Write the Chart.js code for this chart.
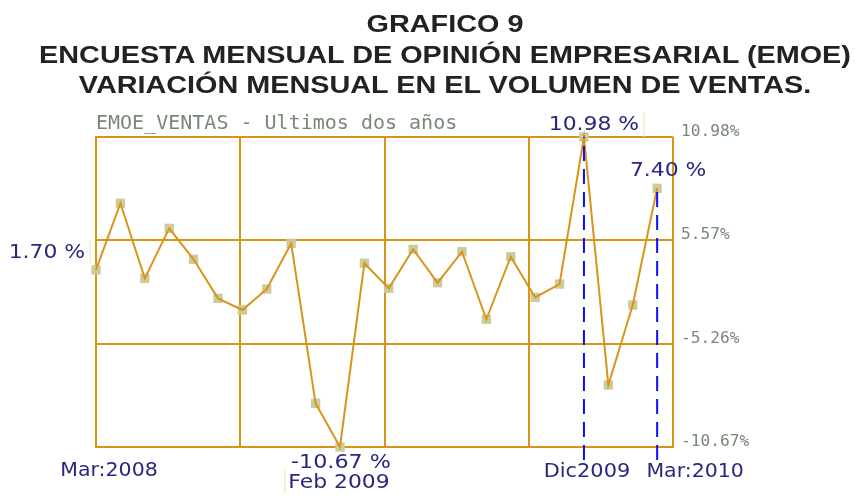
<!DOCTYPE html>
<html>
<head>
<meta charset="utf-8">
<script src="https://cdn.jsdelivr.net/npm/chart.js@4.4.1/dist/chart.umd.min.js"></script>
<style>
  body { margin: 0; background: #fff; }
  #marco { position: relative; width: 866px; height: 497px; overflow: hidden; }
  #titulo {
    position: absolute; left: 0; top: 9px; width: 890px;
    text-align: center; color: #222;
    font: bold 24px "Liberation Sans", Arial, sans-serif; line-height: 30.5px;
    transform: scaleX(1.2); transform-origin: 445px 0;
  }
  #grafico { position: absolute; left: 0; top: 0; }
</style>
</head>
<body>
<div id="marco">
  <canvas id="grafico" width="866" height="497"></canvas>
  <div id="titulo">GRAFICO 9<br>ENCUESTA MENSUAL DE OPINIÓN EMPRESARIAL (EMOE)<br>VARIACIÓN MENSUAL EN EL VOLUMEN DE VENTAS.</div>
</div>
<script>
// datos (variacion mensual %, abr 2008 - mar 2010)
const meses = ["Abr 2008", "May 2008", "Jun 2008", "Jul 2008", "Ago 2008", "Sep 2008",
  "Oct 2008", "Nov 2008", "Dic 2008", "Ene 2009", "Feb 2009", "Mar 2009",
  "Abr 2009", "May 2009", "Jun 2009", "Jul 2009", "Ago 2009", "Sep 2009",
  "Oct 2009", "Nov 2009", "Dic 2009", "Ene 2010", "Feb 2010", "Mar 2010"];
const ventas = [1.70, 6.35, 1.11, 4.60, 2.44, -0.29, -1.10, 0.36, 3.55, -7.62, -10.67, 2.16,
  0.41, 3.14, 0.80, 2.97, -1.75, 2.62, -0.22, 0.71, 10.98, -6.34, -0.75, 7.40];
const etiquetasDerecha = ["-10.67%", "-5.26%", "5.57%", "10.98%"];
const textosEje = ["Mar:2008", "Dic2009", "Mar:2010"];
const indicesEje = [0, 20, 23];
const subtitulo = "EMOE_VENTAS - Ultimos dos años";

const yMin = -10.67, yMax = 10.98, xMax = 23.65;
const dorado = "#d8951a";
const azulTexto = "#28287f";

function texto(ctx, s, x, y, alinear, sx) {
  ctx.save();
  ctx.translate(x, y);
  ctx.scale(sx, 1);
  ctx.textAlign = alinear;
  ctx.textBaseline = "middle";
  ctx.fillText(s, 0, 0);
  ctx.restore();
}

function linea(ctx, x1, y1, x2, y2) {
  ctx.beginPath();
  ctx.moveTo(x1, y1);
  ctx.lineTo(x2, y2);
  ctx.stroke();
}

const textos = {
  id: "textos",
  afterDatasetsDraw(chart) {
    const ctx = chart.ctx;
    const area = chart.chartArea;
    const sx = chart.scales.x, sy = chart.scales.y;
    const px = i => sx.getPixelForValue(i);
    const py = v => sy.getPixelForValue(v);

    // lineas azules punteadas (Dic 2009 y ultimo mes)
    ctx.save();
    ctx.strokeStyle = "#0c0cff";
    ctx.lineWidth = 2;
    ctx.setLineDash([15, 8]);
    [20, 23].forEach(i => linea(ctx, px(i), area.bottom + 13, px(i), py(ventas[i])));
    ctx.restore();

    // marcas amarillas tenues
    ctx.save();
    ctx.strokeStyle = "#f2e2a2";
    ctx.lineWidth = 1;
    linea(ctx, px(0) - 6, py(ventas[0]) - 29, px(0) - 6, py(ventas[0]) - 7);
    linea(ctx, px(20) + 60, area.top - 25, px(20) + 60, area.top);
    linea(ctx, px(10) - 55, area.bottom + 23, px(10) - 55, area.bottom + 46);
    ctx.restore();

    // subtitulo
    ctx.fillStyle = "#788878";
    ctx.font = '20px "DejaVu Sans Mono", monospace';
    texto(ctx, subtitulo, area.left, area.top - 13, "left", 1);

    // etiquetas del eje derecho
    ctx.font = '15px "DejaVu Sans Mono", monospace';
    sy.ticks.forEach((t, k) => {
      texto(ctx, etiquetasDerecha[k], area.right + 8, py(t.value) - 5, "left", 1.08);
    });

    // etiquetas azules
    ctx.fillStyle = azulTexto;
    ctx.font = '19px "DejaVu Sans", Verdana, sans-serif';
    const f = v => v.toFixed(2) + " %";
    texto(ctx, f(ventas[0]), px(0) - 11, py(ventas[0]) - 17, "right", 1.15);
    texto(ctx, f(ventas[20]), px(20) + 10, py(ventas[20]) - 12, "center", 1.15);
    texto(ctx, f(ventas[23]), px(23) + 11, py(ventas[23]) - 17, "center", 1.15);
    texto(ctx, f(ventas[10]), px(10) + 1, area.bottom + 16, "center", 1.17);
    texto(ctx, meses[10], px(10) - 1, area.bottom + 36, "center", 1.15);
    texto(ctx, textosEje[0], px(indicesEje[0]) + 13, area.bottom + 24, "center", 1.08);
    texto(ctx, textosEje[1], px(indicesEje[1]) + 3, area.bottom + 25, "center", 1.1);
    texto(ctx, textosEje[2], px(indicesEje[2]) + 38, area.bottom + 25, "center", 1.08);
  }
};

const puntos = ventas.map((v, i) => ({ x: i, y: v }));

new Chart(document.getElementById("grafico"), {
  type: "line",
  data: {
    datasets: [
      {
        label: "EMOE_VENTAS",
        data: puntos,
        borderColor: dorado,
        borderWidth: 2,
        pointRadius: 0,
        fill: false,
        clip: false,
        order: 0
      },
      {
        label: "marcas",
        data: puntos,
        showLine: false,
        pointStyle: "rect",
        pointRadius: 6.6,
        pointBorderWidth: 0,
        pointBackgroundColor: "#cbcb9c",
        clip: false,
        order: 1
      }
    ]
  },
  options: {
    responsive: false,
    animation: false,
    events: [],
    layout: { autoPadding: false, padding: { left: 96, right: 193, top: 137, bottom: 50 } },
    plugins: { legend: { display: false }, tooltip: { enabled: false }, title: { display: false } },
    scales: {
      x: {
        type: "linear", min: 0, max: xMax,
        afterBuildTicks: eje => { eje.ticks = [0, 1, 2, 3, 4].map(k => ({ value: xMax * k / 4 })); },
        ticks: { display: false },
        grid: { color: dorado, lineWidth: 2, drawTicks: false },
        border: { color: dorado, width: 2 }
      },
      y: {
        type: "linear", min: yMin, max: yMax,
        afterBuildTicks: eje => { eje.ticks = [0, 1, 2, 3].map(k => ({ value: yMin + (yMax - yMin) * k / 3 })); },
        ticks: { display: false },
        grid: { color: dorado, lineWidth: 2, drawTicks: false },
        border: { color: dorado, width: 2 }
      }
    }
  },
  plugins: [textos]
});
</script>
</body>
</html>
